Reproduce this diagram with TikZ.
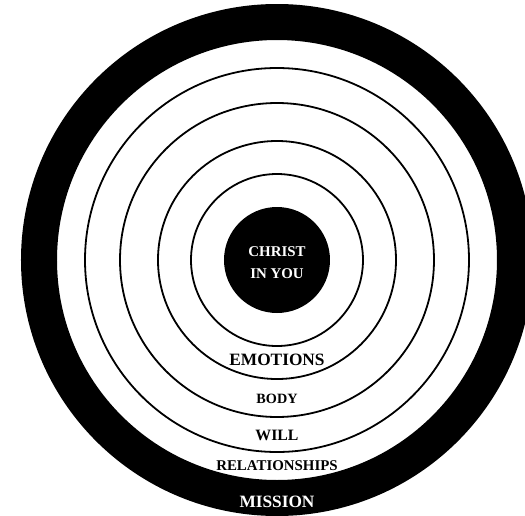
\documentclass[tikz,border=0pt]{standalone}
\usepackage{fontspec}
\setmainfont{Liberation Serif}
\usetikzlibrary{positioning}

\tikzset{
  ringlabel/.style={font=\bfseries\fontsize{#1}{#1}\selectfont, inner sep=0pt},
  ringline/.style={line width=1.8pt}
}

\begin{document}
\begin{tikzpicture}[x=1pt,y=1pt]
    \useasboundingbox (-277,-255) rectangle (248,260);
    % outer black band
    \fill[black,even odd rule] (0,0) circle (256) (0,0) circle (220);
    % thin rings
    \foreach \r in {192,157,119,86}
      \draw[ringline] (0,0) circle (\r);
    % core
    \fill[black] (0,0) circle (53);
    \node[ringlabel=14.9,text=white,align=center] (core) at (0,-3)
      {CHRIST\\[7pt]IN YOU};
    \node[ringlabel=17.3] (emotions) at (0,-100) {EMOTIONS};
    \node[ringlabel=14.2] (body) at (0,-139) {BODY};
    \node[ringlabel=15.8] (will) at (0,-175) {WILL};
    \node[ringlabel=14.9] (relations) at (0,-206) {RELATIONSHIPS};
    \node[ringlabel=17.3,text=white] (mission) at (0,-242) {MISSION};
  \end{tikzpicture}
\end{document}
